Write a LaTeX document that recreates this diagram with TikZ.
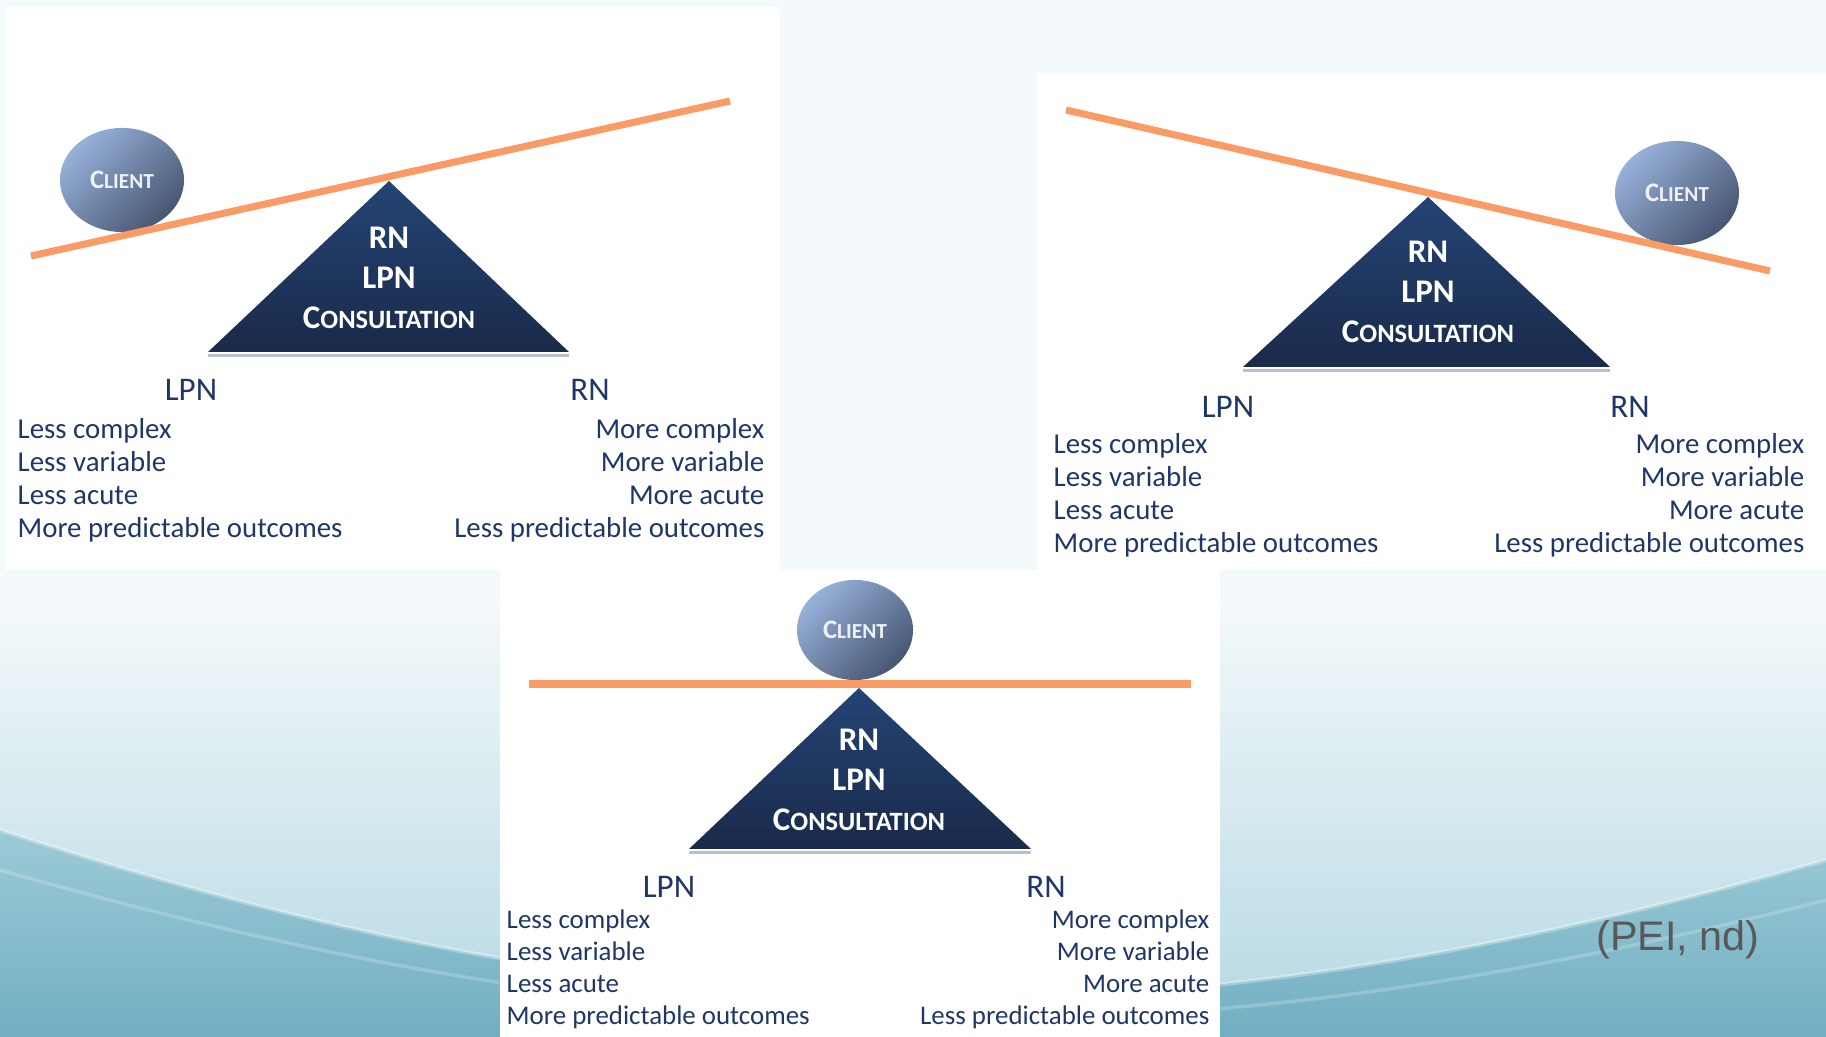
\documentclass[tikz,border=0pt]{standalone}
\usepackage{fontspec}
\setmainfont{Carlito}
\newfontfamily\citefont{Liberation Sans}
\usetikzlibrary{shapes.geometric}

\definecolor{navy}{HTML}{1F3767}
\definecolor{beamcol}{HTML}{FA9A65}
\definecolor{fulcrumtop}{HTML}{244474}
\definecolor{fulcrumbot}{HTML}{1A2A4A}
\definecolor{edgegrey}{HTML}{B7C0CC}
\definecolor{balllight}{HTML}{97B1D9}
\definecolor{balldark}{HTML}{475672}
\definecolor{balltext}{HTML}{EEF2F8}
\definecolor{bgtop}{HTML}{F4F9FB}
\definecolor{bgbottom}{HTML}{B4D8E2}
\definecolor{wavetop}{HTML}{9CCAD7}
\definecolor{wavebot}{HTML}{6DACC0}
\definecolor{citegrey}{HTML}{595959}

% small capitals, faked: first letter full size, the rest scaled down
\newcommand{\smallcap}[2]{#1\scalebox{0.8}{#2}}

\tikzset{
  panel/.style={fill=white},
  beam/.style={draw=beamcol, line width=2pt},
  fulcrum/.style={top color=fulcrumtop, bottom color=fulcrumbot},
  fulcrumedge/.style={draw=edgegrey, line width=1pt},
  client/.style={ellipse, inner sep=0pt, minimum width=1.24cm, minimum height=1.04cm,
    top color=balllight, bottom color=balldark, shading angle=45,
    text=balltext, font=\bfseries\fontsize{7.6}{9}\selectfont},
  fulcrumtext/.style={align=center, text=white, inner sep=0pt,
    font=\bfseries\fontsize{9.4}{11.4}\selectfont},
  heading/.style={text=navy, inner sep=0pt, font=\fontsize{9.4}{11}\selectfont},
  leftlist/.style={anchor=west, align=left, inner sep=0pt, text=navy,
    font=\fontsize{8.2}{9.4}\selectfont},
  rightlist/.style={anchor=east, align=right, inner sep=0pt, text=navy,
    font=\fontsize{8.2}{9.4}\selectfont},
  smalllist/.style={font=\fontsize{7.65}{9.1}\selectfont},
}

\begin{document}
\begin{tikzpicture}[x=0.01cm, y=-0.01cm]
\useasboundingbox (0,0) rectangle (1826,1037);

% background and wave
\fill[bgtop] (0,0) rectangle (1826,1037);
\shade[top color=bgtop, bottom color=bgbottom] (0,600) rectangle (1826,1037);
\shade[top color=wavetop, bottom color=wavebot]
  (0,830) .. controls (700,1060) and (1200,1040) .. (1826,860) -- (1826,1037) -- (0,1037) -- cycle;
\draw[white, opacity=.3, line width=1.2pt]
  (0,830) .. controls (700,1060) and (1200,1040) .. (1826,860);
\draw[white, opacity=.2, line width=1pt]
  (0,870) .. controls (700,1070) and (1200,1060) .. (1826,900);

% white panels
\fill[panel] (5,7) rectangle (780,570);
\fill[panel] (1037,73) rectangle (1826,570);
\fill[panel] (500,570) rectangle (1220,1037);

%%% left tipped
\coordinate (apex1) at (389,181);
\coordinate (bl1) at (208,352);
\coordinate (br1) at (569,352);
\coordinate (beamL1) at (31,256);
\coordinate (beamR1) at (730,101);
\shade[fulcrum] (apex1) -- (bl1) -- (br1) -- cycle;
\draw[fulcrumedge] ([yshift=-1pt]bl1) -- ([yshift=-1pt]br1);
\node (pivot1) [fulcrumtext] at (389,278) {RN\\LPN\\\smallcap{C}{ONSULTATION}};
\node (client1) [client] at (122,180) {\smallcap{C}{LIENT}};
\draw[beam] (beamL1) -- (beamR1);
\node (lpn1) [heading] at (191,390) {LPN};
\node (rn1) [heading] at (590,390) {RN};
\node (lpnlist1) [leftlist] at (17,480) {Less complex\\Less variable\\Less acute\\More predictable outcomes};
\node (rnlist1) [rightlist] at (765,480) {More complex\\More variable\\More acute\\Less predictable outcomes};

%%% right tipped
\coordinate (apex2) at (1428,197);
\coordinate (bl2) at (1243,367);
\coordinate (br2) at (1610,367);
\coordinate (beamL2) at (1066,110);
\coordinate (beamR2) at (1770,271);
\shade[fulcrum] (apex2) -- (bl2) -- (br2) -- cycle;
\draw[fulcrumedge] ([yshift=-1pt]bl2) -- ([yshift=-1pt]br2);
\node (pivot2) [fulcrumtext] at (1428,292) {RN\\LPN\\\smallcap{C}{ONSULTATION}};
\node (client2) [client] at (1677,193) {\smallcap{C}{LIENT}};
\draw[beam] (beamL2) -- (beamR2);
\node (lpn2) [heading] at (1228,407) {LPN};
\node (rn2) [heading] at (1630,407) {RN};
\node (lpnlist2) [leftlist] at (1053,495) {Less complex\\Less variable\\Less acute\\More predictable outcomes};
\node (rnlist2) [rightlist] at (1805,495) {More complex\\More variable\\More acute\\Less predictable outcomes};

%%% level
\coordinate (apex3) at (859,688);
\coordinate (bl3) at (689,849);
\coordinate (br3) at (1031,849);
\coordinate (beamL3) at (529,684);
\coordinate (beamR3) at (1191,684);
\shade[fulcrum] (apex3) -- (bl3) -- (br3) -- cycle;
\draw[fulcrumedge] ([yshift=-1pt]bl3) -- ([yshift=-1pt]br3);
\node (pivot3) [fulcrumtext] at (859,780) {RN\\LPN\\\smallcap{C}{ONSULTATION}};
\node (client3) [client, minimum width=1.16cm, minimum height=1cm] at (855,630) {\smallcap{C}{LIENT}};
\draw[beam] (beamL3) -- (beamR3);
\node (lpn3) [heading] at (669,887) {LPN};
\node (rn3) [heading] at (1046,887) {RN};
\node (lpnlist3) [leftlist, smalllist] at (506,969) {Less complex\\Less variable\\Less acute\\More predictable outcomes};
\node (rnlist3) [rightlist, smalllist] at (1210,969) {More complex\\More variable\\More acute\\Less predictable outcomes};

\node (cite) [text=citegrey, font=\citefont\fontsize{11.75}{14}\selectfont] at (1678,940) {(PEI, nd)};
\end{tikzpicture}
\end{document}
